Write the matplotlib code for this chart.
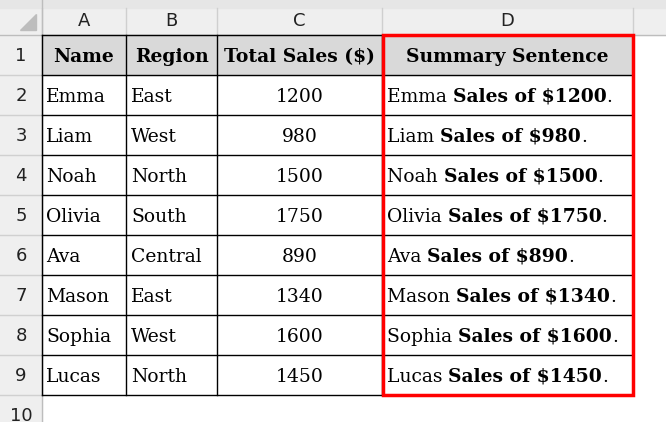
import matplotlib
matplotlib.use("Agg")
import matplotlib.pyplot as plt
from matplotlib.patches import Rectangle

names = ["Emma", "Liam", "Noah", "Olivia", "Ava", "Mason", "Sophia", "Lucas"]
regions = ["East", "West", "North", "South", "Central", "East", "West", "North"]
sales = [1200, 980, 1500, 1750, 890, 1340, 1600, 1450]
headers = ["Name", "Region", "Total Sales ($)", "Summary Sentence"]
col_letters = ["A", "B", "C", "D"]

W, H = 666, 422
fig = plt.figure(figsize=(W/100, H/100), dpi=100)
ax = fig.add_axes([0, 0, 1, 1])
ax.set_xlim(0, W); ax.set_ylim(H, 0); ax.axis("off")

colx = [0, 42, 126, 217, 382, 633, 666]
hdr_h = 35
row_h = 40
SERIF = "DejaVu Serif"
FS = 13.5

ax.add_patch(Rectangle((0, 0), W, hdr_h, color="#efefef", zorder=0))
ax.add_patch(Rectangle((0, 0), 42, H, color="#efefef", zorder=0))
ax.add_patch(Rectangle((0, 0), W, 8, color="#e6e6e6", zorder=0))
ax.fill([36, 36, 20], [14, 30, 30], color="#bdbdbd", zorder=1)
for i, L in enumerate(col_letters):
    cx = (colx[i+1] + colx[i+2]) / 2
    ax.text(cx, 21, L, ha="center", va="center", fontsize=13, family="DejaVu Sans", color="#222")
    ax.plot([colx[i+1]]*2, [8, hdr_h], color="#cfcfcf", lw=1)
ax.plot([colx[5]]*2, [8, hdr_h], color="#cfcfcf", lw=1)
ax.plot([0, W], [hdr_h, hdr_h], color="#bdbdbd", lw=1)
ax.plot([42, 42], [0, H], color="#bdbdbd", lw=1)

for r in range(10):
    y0 = hdr_h + r * row_h
    ax.text(21, y0 + row_h/2 + 1, str(r+1), ha="center", va="center", fontsize=13,
            family="DejaVu Sans", color="#222")
    ax.plot([0, 42], [y0 + row_h]*2, color="#d0d0d0", lw=1)

ax.add_patch(Rectangle((42, hdr_h), 633-42, row_h, color="#d9d9d9", zorder=0))

table_bottom = hdr_h + 9 * row_h
for x in colx[1:6]:
    ax.plot([x, x], [hdr_h, table_bottom], color="black", lw=1, zorder=2)
for r in range(10):
    y = hdr_h + r * row_h
    ax.plot([42, 633], [y, y], color="black", lw=1, zorder=2)

for i, h in enumerate(headers):
    cx = (colx[i+1] + colx[i+2]) / 2
    ax.text(cx, hdr_h + 27, h, ha="center", va="baseline", fontsize=FS,
            fontweight="bold", family=SERIF, color="black", zorder=3)

fig.canvas.draw()
rend = fig.canvas.get_renderer()
inv = ax.transData.inverted()

for r in range(len(names)):
    yb = hdr_h + (r + 1) * row_h + 27
    kw = dict(va="baseline", fontsize=FS, family=SERIF, zorder=3)
    ax.text(46, yb, names[r], ha="left", **kw)
    ax.text(131, yb, regions[r], ha="left", **kw)
    ax.text((217+382)/2, yb, str(sales[r]), ha="center", **kw)
    t1 = ax.text(387, yb, names[r] + " ", ha="left", **kw)
    bb = t1.get_window_extent(rend)
    x_end = inv.transform((bb.x1, bb.y0))[0]
    t2 = ax.text(x_end, yb, "Sales of $%d" % sales[r], ha="left", fontweight="bold", **kw)
    bb2 = t2.get_window_extent(rend)
    x_end2 = inv.transform((bb2.x1, bb2.y0))[0]
    ax.text(x_end2, yb, ".", ha="left", **kw)

ax.add_patch(Rectangle((382.5, hdr_h), 633-382.5, table_bottom - hdr_h, fill=False,
                       edgecolor="#ff0000", lw=2.5, zorder=4))

fig.savefig("out.png", dpi=100)
